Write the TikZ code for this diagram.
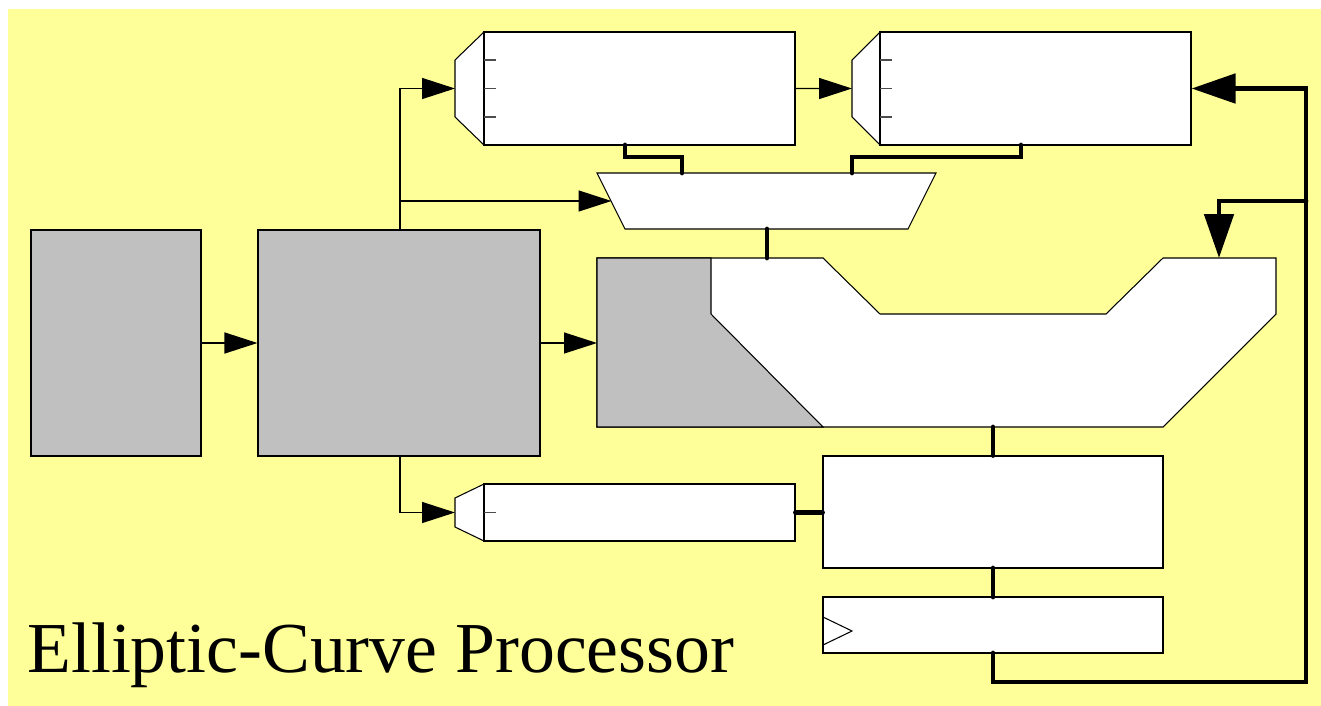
\documentclass[tikz,border=0pt]{standalone}
\usepackage{fontspec}
\setmainfont{Liberation Serif}
\usetikzlibrary{arrows.meta,fit}
\definecolor{bgyellow}{RGB}{255,255,153}
\definecolor{blockgray}{RGB}{192,192,192}
\begin{document}
\begin{tikzpicture}[x=0.02cm,y=-0.02cm,
  blk/.style={draw=black, line width=0.6pt, inner sep=0pt},
  grayblk/.style={blk, fill=blockgray},
  whiteblk/.style={blk, fill=white},
  outline/.style={draw=black, line width=0.6pt, fill=white, line join=miter},
  tickline/.style={draw=black!70, line width=0.6pt},
  sig/.style={draw=black, line width=0.75pt, -{Triangle[length=0.66cm, width=0.42cm]}},
  bus/.style={draw=black, line width=2.8pt, line cap=round, line join=miter},
  busarrow/.style={bus, -{Triangle[length=0.88cm, width=0.58cm]}},
]
\useasboundingbox (0,0) rectangle (1321,706);
\fill[bgyellow] (8,9) rectangle (1321,706);

% left gray blocks
\node[grayblk, fit={(31,230) (201,456)}] (A) {};
\node[grayblk, fit={(258,230) (540,456)}] (B) {};

% top register 1
\draw[outline] (484,32) -- (455,60) -- (455,117) -- (484,145) -- cycle;
\node[whiteblk, fit={(484,32) (795,145)}] (R1) {};
\coordinate (R1in) at (455,88.5);
\coordinate (R1out) at (625,145);
\foreach \y in {60,88.5,117} \draw[tickline] (484,\y) -- (496,\y);

% top register 2
\draw[outline] (880,32) -- (852,60) -- (852,117) -- (880,145) -- cycle;
\node[whiteblk, fit={(880,32) (1191,145)}] (R2) {};
\coordinate (R2in) at (852,88.5);
\coordinate (R2out) at (1021,145);
\foreach \y in {60,88.5,117} \draw[tickline] (880,\y) -- (892,\y);

% multiplexer
\draw[outline] (597,173) -- (936,173) -- (908,229) -- (625,229) -- cycle;
\coordinate (MuxA) at (682,173);
\coordinate (MuxB) at (852,173);
\coordinate (MuxIn) at (611.5,201);
\coordinate (MuxOut) at (767,229);

% big datapath shape
\draw[outline] (597,258) -- (823,258) -- (880,314) -- (1106,314) -- (1163,258)
  -- (1276,258) -- (1276,314) -- (1163,427) -- (597,427) -- cycle;
\draw[draw=black, line width=0.6pt, fill=blockgray] (597,258) -- (711,258) -- (711,314)
  -- (823,427) -- (597,427) -- cycle;
\coordinate (BigIn) at (597,343);
\coordinate (BigTop) at (767,258);
\coordinate (BigFb) at (1219,258);
\coordinate (BigOut) at (993,427);

% block C
\node[whiteblk, fit={(823,456) (1163,568)}] (C) {};
% clocked register D
\node[whiteblk, fit={(823,597) (1163,653)}] (D) {};
\draw[draw=black, line width=0.6pt] (823,617) -- (852,631) -- (823,645);

% bottom register E
\draw[outline] (484,484) -- (455,498) -- (455,527) -- (484,541) -- cycle;
\node[whiteblk, fit={(484,484) (795,541)}] (E) {};
\coordinate (Ein) at (455,512.5);
\draw[tickline] (484,512.5) -- (496,512.5);

% thin connectors
\draw[sig] (A.east) -- (B.west);
\draw[sig] (B.east) -- (BigIn);
\coordinate (Btop) at (400,230);
\coordinate (Bbot) at (400,456);
\coordinate (Bsplit) at (400,201);
\draw[sig] (Btop) |- (R1in);
\draw[sig] (Bsplit) -- (MuxIn);
\draw[sig] (Bbot) |- (Ein);
\draw[sig] (R1.east) -- (R2in);

% buses
\draw[bus] (R1out) -- (625,157) -| (MuxA);
\draw[bus] (R2out) -- (1021,157) -| (MuxB);
\draw[bus] (MuxOut) -- (BigTop);
\draw[bus] (BigOut) -- (C.north -| BigOut);
\draw[bus] (E.east) -- (C.west |- E.east);
\coordinate (Ctop) at (993,568);
\coordinate (Dtop) at (993,597);
\draw[bus] (Ctop) -- (Dtop);
\coordinate (Dout) at (993,653);
\coordinate (FbCorner) at (1306,682);
\coordinate (FbSplit) at (1306,201);
\draw[busarrow] (Dout) |- (FbCorner) |- (R2.east);
\draw[busarrow] (FbSplit) -| (BigFb);

% title
\node[anchor=base west, inner sep=0pt, font=\fontsize{40.8}{48}\selectfont] (title) at (27,672) {Elliptic-Curve Processor};
\end{tikzpicture}
\end{document}
